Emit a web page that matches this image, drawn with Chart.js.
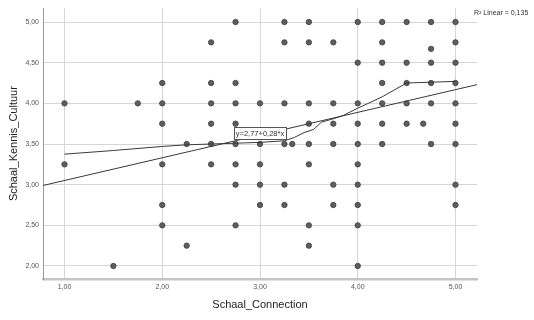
<!DOCTYPE html>
<html><head><meta charset="utf-8">
<script src="https://cdn.jsdelivr.net/npm/chart.js@4/dist/chart.umd.min.js"></script>
<style>html,body{margin:0;padding:0;background:#fff;}#wrap{width:534px;height:320px;}</style>
</head><body><div id="wrap"><canvas id="c" width="534" height="320"></canvas></div>
<script>
// Observed points (Schaal_Connection, Schaal_Kennis_Cultuur)
const connection = [
  1.00,1.00,
  1.50,
  1.75,
  2.00,2.00,2.00,2.00,2.00,2.00,
  2.25,2.25,
  2.50,2.50,2.50,2.50,2.50,2.50,
  2.75,2.75,2.75,2.75,2.75,2.75,2.75,2.75,
  3.00,3.00,3.00,3.00,3.00,
  3.25,3.25,3.25,3.25,3.25,3.25,
  3.33,
  3.50,3.50,3.50,3.50,3.50,3.50,3.50,3.50,
  3.75,3.75,3.75,3.75,3.75,3.75,
  4.00,4.00,4.00,4.00,4.00,4.00,4.00,4.00,4.00,4.00,
  4.25,4.25,4.25,4.25,4.25,4.25,4.25,
  4.50,4.50,4.50,4.50,4.50,
  4.67,
  4.75,4.75,4.75,4.75,4.75,4.75,
  5.00,5.00,5.00,5.00,5.00,5.00,5.00,5.00,5.00
];
const kennisCultuur = [
  4.00,3.25,
  2.00,
  4.00,
  4.25,4.00,3.75,3.25,2.75,2.50,
  3.50,2.25,
  4.75,4.25,4.00,3.75,3.50,3.25,
  5.00,4.25,4.00,3.75,3.50,3.25,3.00,2.50,
  4.00,3.50,3.25,3.00,2.75,
  5.00,4.75,4.00,3.50,3.00,2.75,
  3.50,
  5.00,4.75,4.00,3.75,3.50,3.25,2.50,2.25,
  4.75,4.00,3.75,3.50,3.00,2.75,
  5.00,4.50,4.00,3.75,3.50,3.25,3.00,2.75,2.50,2.00,
  5.00,4.75,4.50,4.25,4.00,3.75,3.50,
  5.00,4.50,4.25,4.00,3.75,
  3.75,
  5.00,4.67,4.50,4.25,4.00,3.50,
  5.00,4.75,4.50,4.25,4.00,3.75,3.50,3.00,2.75
];
// Linear fit line endpoints (read at plot edges)
const linearFitX = [0.78, 5.22];
const linearFitY = [2.99, 4.23];
// Smoothed fit curve
const curveX = [1.00, 1.50, 2.00, 2.25, 2.50, 2.75, 3.00, 3.25, 3.35, 3.45, 3.55, 3.63, 3.75, 3.85, 4.00, 4.25, 4.50, 4.75, 5.00];
const curveY = [3.375,3.42, 3.47, 3.49, 3.50, 3.51, 3.52, 3.54, 3.58, 3.64, 3.68, 3.77, 3.81, 3.85, 3.94, 4.08, 4.25, 4.26, 4.27];

const xTickValues = [1, 2, 3, 4, 5];
const xTickLabels = ['1,00', '2,00', '3,00', '4,00', '5,00'];
const yTickValues = [2, 2.5, 3, 3.5, 4, 4.5, 5];
const yTickLabels = ['2,00', '2,50', '3,00', '3,50', '4,00', '4,50', '5,00'];

const xTitle = 'Schaal_Connection';
const yTitle = 'Schaal_Kennis_Cultuur';
const equationLabel = 'y=2,77+0,28*x';
const equationAnchor = [3.0, 3.63];
const r2Label = 'R² Linear = 0,135';

const FONT = "'Liberation Sans', Arial, sans-serif";

const pts = connection.map((x, i) => ({x, y: kennisCultuur[i]}));
const linPts = linearFitX.map((x, i) => ({x, y: linearFitY[i]}));
const curvePts = curveX.map((x, i) => ({x, y: curveY[i]}));

const annotations = {
  id: 'annotations',
  afterDatasetsDraw(chart) {
    const ctx = chart.ctx;
    const xs = chart.scales.x, ys = chart.scales.y;
    ctx.save();
    // equation box
    ctx.font = '7.5px ' + FONT;
    const w = ctx.measureText(equationLabel).width + 4;
    const h = 12;
    const cx = xs.getPixelForValue(equationAnchor[0]);
    const cy = ys.getPixelForValue(equationAnchor[1]);
    ctx.fillStyle = '#fff';
    ctx.fillRect(cx - w / 2, cy - h / 2, w, h);
    ctx.strokeStyle = '#555';
    ctx.lineWidth = 1;
    ctx.strokeRect(Math.round(cx - w / 2) + 0.5, Math.round(cy - h / 2) + 0.5, Math.round(w), h);
    ctx.fillStyle = '#333';
    ctx.textAlign = 'center';
    ctx.textBaseline = 'middle';
    ctx.fillText(equationLabel, cx, cy + 0.5);
    // R² label
    ctx.font = '7px ' + FONT;
    ctx.textAlign = 'left';
    ctx.fillStyle = '#333';
    ctx.fillText(r2Label, chart.chartArea.right - 3, 13);
    ctx.restore();
  }
};

new Chart(document.getElementById('c'), {
  type: 'scatter',
  data: {
    datasets: [
      {
        label: 'Linear',
        data: linPts,
        showLine: true,
        pointRadius: 0,
        borderColor: '#3a3a3a',
        borderWidth: 1,
        order: 1
      },
      {
        label: 'Curve',
        data: curvePts,
        showLine: true,
        pointRadius: 0,
        borderColor: '#3a3a3a',
        borderWidth: 1,
        tension: 0,
        order: 1
      },
      {
        label: 'Observed',
        data: pts,
        pointRadius: 2.7,
        pointBackgroundColor: '#5e5e5e',
        pointBorderColor: '#3c3c3c',
        pointBorderWidth: 0.8,
        order: 2
      }
    ]
  },
  options: {
    responsive: false,
    devicePixelRatio: 1,
    animation: false,
    layout: { padding: { left: 0, right: 57, top: 7, bottom: 0 } },
    plugins: { legend: { display: false }, tooltip: { enabled: false } },
    scales: {
      x: {
        type: 'linear',
        min: 0.78, max: 5.22,
        afterFit(s) { s.height = 41; },
        afterBuildTicks(s) { s.ticks = xTickValues.map(v => ({value: v})); },
        ticks: {
          callback: (v) => xTickLabels[xTickValues.indexOf(v)] ?? '',
          font: { family: FONT, size: 7 },
          color: '#555',
          padding: 4,
          maxRotation: 0
        },
        grid: { color: '#d6d6d6', lineWidth: 1, drawTicks: false },
        border: { color: '#c4c4c4', width: 2.5 },
        title: {
          display: true, text: xTitle,
          font: { family: FONT, size: 11 }, color: '#222',
          padding: { top: 0, bottom: 8 }
        }
      },
      y: {
        type: 'linear',
        min: 1.84, max: 5.17,
        afterFit(s) { s.width = 43; },
        afterBuildTicks(s) { s.ticks = yTickValues.map(v => ({value: v})); },
        ticks: {
          callback: (v) => yTickLabels[yTickValues.indexOf(v)] ?? '',
          font: { family: FONT, size: 7 },
          color: '#555',
          padding: 4
        },
        grid: { color: '#d6d6d6', lineWidth: 1, drawTicks: false },
        border: { color: '#9a9a9a', width: 1 },
        title: {
          display: true, text: yTitle,
          font: { family: FONT, size: 11 }, color: '#222',
          padding: { top: 7.5, bottom: 0 }
        }
      }
    }
  },
  plugins: [annotations]
});
</script>
</body></html>
